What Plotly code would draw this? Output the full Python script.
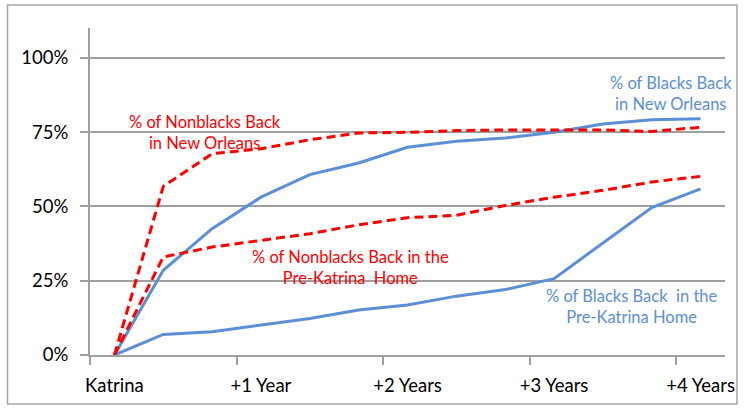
import plotly.graph_objects as go

years = [i / 3 for i in range(13)]
tick_vals = [0, 1, 2, 3, 4]
tick_text = ["Katrina", "+1 Year", "+2 Years", "+3 Years", "+4 Years"]
y_ticks = [0, 0.25, 0.5, 0.75, 1.0]
y_tick_text = ["0%", "25%", "50%", "75%", "100%"]

blacks_no = [0, 0.285, 0.425, 0.531, 0.607, 0.646, 0.699, 0.719, 0.730, 0.749, 0.777, 0.791, 0.795]
nonblacks_no = [0, 0.567, 0.677, 0.694, 0.724, 0.747, 0.749, 0.755, 0.757, 0.757, 0.757, 0.752, 0.766]
nonblacks_home = [0, 0.330, 0.363, 0.386, 0.408, 0.438, 0.462, 0.470, 0.503, 0.531, 0.554, 0.582, 0.601]
blacks_home = [0, 0.069, 0.078, 0.101, 0.123, 0.151, 0.168, 0.198, 0.220, 0.257, 0.377, 0.496, 0.559]

BLUE = "#5B8FD6"
RED = "#FF0000"
FONT = "Lato"

fig = go.Figure()
fig.add_trace(go.Scatter(x=years, y=blacks_home, mode="lines", line=dict(color=BLUE, width=3)))
fig.add_trace(go.Scatter(x=years, y=blacks_no, mode="lines", line=dict(color=BLUE, width=3)))
fig.add_trace(go.Scatter(x=years, y=nonblacks_home, mode="lines", line=dict(color=RED, width=3, dash="9px,5px")))
fig.add_trace(go.Scatter(x=years, y=nonblacks_no, mode="lines", line=dict(color=RED, width=3, dash="9px,5px")))

annots = [
    ("% of Nonblacks Back<br>in New Orleans", 0.617, 0.748, RED),
    ("% of Nonblacks Back in the<br>Pre-Katrina  Home", 1.612, 0.295, RED),
    ("% of Blacks Back<br>in New Orleans", 3.80, 0.879, BLUE),
    ("% of Blacks Back  in the<br>Pre-Katrina Home", 3.53, 0.164, BLUE),
]
for text, x, y, c in annots:
    fig.add_annotation(x=x, y=y, text=text, showarrow=False, xanchor="center", yanchor="middle",
                       font=dict(family=FONT, size=16.5, color=c))

# outer border
fig.add_shape(type="rect", xref="paper", yref="paper", x0=-0.1299, x1=1.0188, y0=-0.1498, y1=1.0703,
              line=dict(color="#A6A6A6", width=1.5), fillcolor="rgba(0,0,0,0)")

fig.update_layout(
    width=747, height=409,
    margin=dict(l=90, r=18, t=28, b=54),
    paper_bgcolor="white", plot_bgcolor="white",
    showlegend=False,
    font=dict(family=FONT, size=18.5, color="black"),
)
fig.update_xaxes(range=[-1 / 6, 4 + 1 / 6], tickmode="array", tickvals=tick_vals, ticktext=tick_text,
                 ticks="", showgrid=False, zeroline=False, showline=True, linecolor="#A0A0A0", linewidth=2,
                 ticklabelstandoff=13,
                 minor=dict(tickmode="array", tickvals=[-1 / 6, 5 / 6, 11 / 6, 17 / 6, 23 / 6],
                            ticks="outside", ticklen=8, tickcolor="#A0A0A0", tickwidth=1.5, showgrid=False),
                 tickfont=dict(family=FONT, size=18.5, color="black"))
fig.update_yaxes(range=[0, 1.1], tickmode="array", tickvals=y_ticks, ticktext=y_tick_text,
                 ticks="outside", ticklen=8, tickcolor="#A0A0A0", tickwidth=1.5,
                 showgrid=True, gridcolor="#A0A0A0", gridwidth=1.5, zeroline=False,
                 showline=True, linecolor="#A0A0A0", linewidth=2, ticklabelstandoff=8,
                 tickfont=dict(family=FONT, size=18.5, color="black"))

fig.write_html("out.html")
